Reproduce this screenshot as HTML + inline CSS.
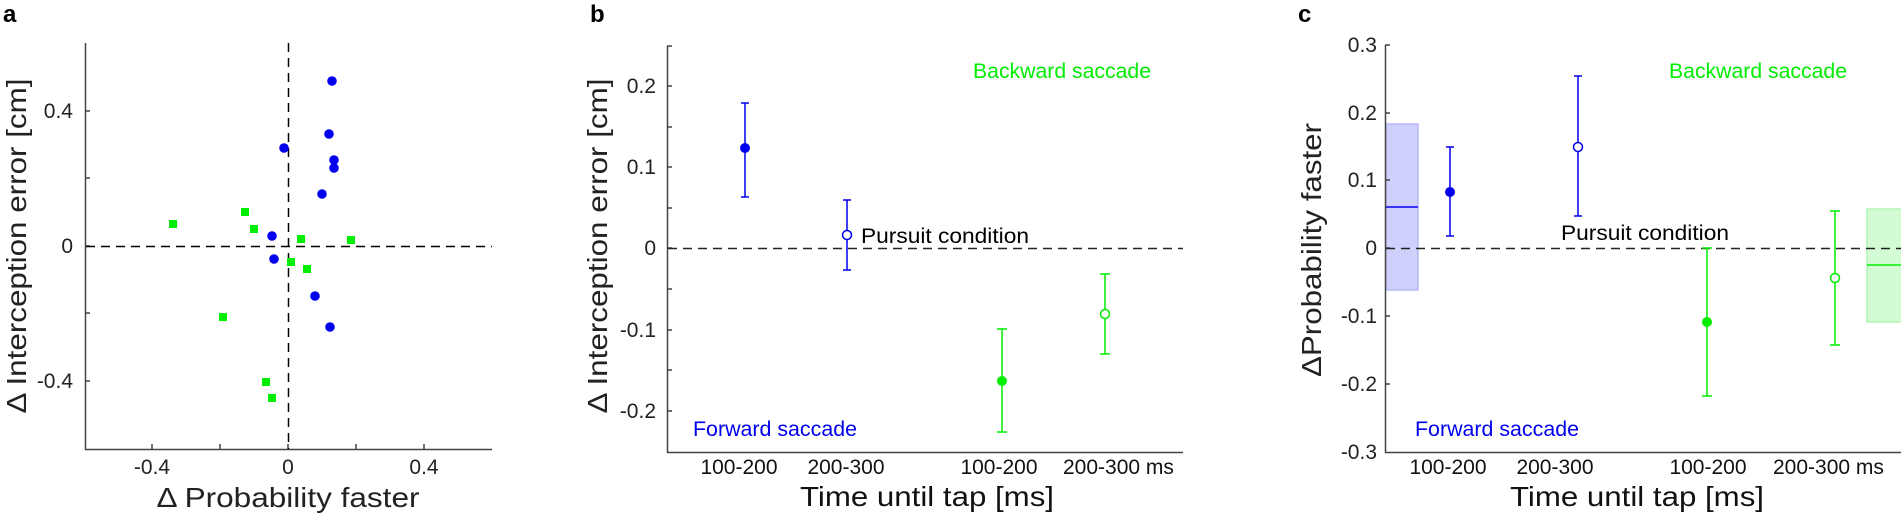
<!DOCTYPE html>
<html><head><meta charset="utf-8"><style>
html,body{margin:0;padding:0;background:#fff;}
svg{display:block;}
text{font-family:"Liberation Sans",sans-serif;}
</style></head><body>
<svg width="1901" height="515" viewBox="0 0 1901 515" xmlns="http://www.w3.org/2000/svg">
<!-- Panel a -->
<text x="3" y="22" font-size="24" font-weight="bold">a</text>
<g stroke="#444" stroke-width="1.5" fill="none">
<path d="M85.5 43 V449.5 H492"/>
<path d="M85 111H90M85 178H90M85 246H90M85 313H90M85 381H90"/>
<path d="M152 449V444M220 449V444M288 449V444M356 449V444M424 449V444"/>
</g>
<g stroke="#000" stroke-width="1.5" stroke-dasharray="9,6" fill="none">
<path d="M86 246.5H492"/><path d="M288.5 43V449"/>
</g>
<g font-size="21" fill="#222" text-anchor="end">
<text x="73" y="118">0.4</text><text x="73" y="253">0</text><text x="73" y="388">-0.4</text>
</g>
<g font-size="21" fill="#222" text-anchor="middle">
<text x="152" y="474">-0.4</text><text x="288" y="474">0</text><text x="424" y="474">0.4</text>
</g>
<text x="288" y="507" font-size="28" fill="#222" text-anchor="middle" textLength="263" lengthAdjust="spacingAndGlyphs">Δ Probability faster</text>
<text transform="translate(26,246) rotate(-90)" font-size="28" fill="#222" text-anchor="middle" textLength="335" lengthAdjust="spacingAndGlyphs">Δ Interception error [cm]</text>
<g fill="#0000ee">
<circle cx="332" cy="81" r="4.8"/><circle cx="329" cy="134" r="4.8"/><circle cx="284" cy="148" r="4.8"/>
<circle cx="334" cy="160" r="4.8"/><circle cx="334" cy="168" r="4.8"/><circle cx="322" cy="194" r="4.8"/>
<circle cx="272" cy="236" r="4.8"/><circle cx="274" cy="259" r="4.8"/><circle cx="315" cy="296" r="4.8"/>
<circle cx="330" cy="327" r="4.8"/>
</g>
<g fill="#00ee00">
<rect x="169" y="220" width="8" height="8"/><rect x="241" y="208" width="8" height="8"/><rect x="250" y="225" width="8" height="8"/>
<rect x="297" y="235" width="8" height="8"/><rect x="347" y="236" width="8" height="8"/><rect x="287" y="258" width="8" height="8"/>
<rect x="303" y="265" width="8" height="8"/><rect x="219" y="313" width="8" height="8"/><rect x="262" y="378" width="8" height="8"/>
<rect x="268" y="394" width="8" height="8"/>
</g>

<!-- Panel b -->
<text x="590" y="22" font-size="24" font-weight="bold">b</text>
<g stroke="#444" stroke-width="1.5" fill="none">
<path d="M667.5 46 V452.5 H1183"/>
<path d="M667 46H672M667 86H672M667 127H672M667 167H672M667 208H672M667 248H672M667 289H672M667 330H672M667 370H672M667 411H672"/>
</g>
<path d="M668 248.5H1183" stroke="#222" stroke-width="1.5" stroke-dasharray="9,6"/>
<g font-size="21" fill="#222" text-anchor="end">
<text x="656" y="93">0.2</text><text x="656" y="174">0.1</text><text x="656" y="255">0</text>
<text x="656" y="337">-0.1</text><text x="656" y="418">-0.2</text>
</g>
<g font-size="21" fill="#111" text-anchor="middle">
<text x="739" y="474">100-200</text><text x="846" y="474">200-300</text><text x="999" y="474">100-200</text>
</g>
<text x="1063" y="474" font-size="21" fill="#111">200-300 ms</text>
<text x="927" y="506" font-size="28" fill="#111" text-anchor="middle" textLength="254" lengthAdjust="spacingAndGlyphs">Time until tap [ms]</text>
<text transform="translate(607,246) rotate(-90)" font-size="28" fill="#222" text-anchor="middle" textLength="335" lengthAdjust="spacingAndGlyphs">Δ Interception error [cm]</text>
<text x="973" y="78" font-size="21" fill="#00ee00" textLength="178" lengthAdjust="spacingAndGlyphs">Backward saccade</text>
<text x="861" y="243" font-size="21" fill="#000" textLength="168" lengthAdjust="spacingAndGlyphs">Pursuit condition</text>
<text x="693" y="436" font-size="21" fill="#0000ee" textLength="164" lengthAdjust="spacingAndGlyphs">Forward saccade</text>
<g stroke="#0000ee" stroke-width="1.5" fill="none">
<path d="M745 103V197M741 103H749M741 197H749"/>
<path d="M847 200V270M843 200H851M843 270H851"/>
</g>
<circle cx="745" cy="148" r="5" fill="#0000ee"/>
<circle cx="847" cy="235" r="4.5" fill="#fff" stroke="#0000ee" stroke-width="1.5"/>
<g stroke="#00ee00" stroke-width="1.5" fill="none">
<path d="M1002 329V432M997 329H1007M997 432H1007"/>
<path d="M1105 274V354M1100 274H1110M1100 354H1110"/>
</g>
<circle cx="1002" cy="381" r="5" fill="#00ee00"/>
<circle cx="1105" cy="314" r="4.5" fill="#fff" stroke="#00ee00" stroke-width="1.5"/>

<!-- Panel c -->
<text x="1298" y="22" font-size="24" font-weight="bold">c</text>
<rect x="1386" y="124" width="32" height="166" fill="#d0d0fc" stroke="#b8b8f6" stroke-width="1.5"/>
<path d="M1386 207H1418" stroke="#0000ee" stroke-width="1.5"/>
<rect x="1867" y="209" width="40" height="113" fill="#d4fcd4" stroke="#b0f6b0" stroke-width="1.5"/>
<path d="M1867 265H1901" stroke="#00ee00" stroke-width="1.5"/>
<g stroke="#444" stroke-width="1.5" fill="none">
<path d="M1385.5 45 V452.5 H1901"/>
<path d="M1385 45H1390M1385 113H1390M1385 180H1390M1385 248H1390M1385 316H1390M1385 384H1390"/>
</g>
<path d="M1386 248.5H1901" stroke="#222" stroke-width="1.5" stroke-dasharray="9,6"/>
<g font-size="21" fill="#222" text-anchor="end">
<text x="1377" y="52">0.3</text><text x="1377" y="120">0.2</text><text x="1377" y="187">0.1</text>
<text x="1377" y="255">0</text><text x="1377" y="323">-0.1</text><text x="1377" y="391">-0.2</text><text x="1377" y="459">-0.3</text>
</g>
<g font-size="21" fill="#111" text-anchor="middle">
<text x="1448" y="474">100-200</text><text x="1555" y="474">200-300</text><text x="1708" y="474">100-200</text>
</g>
<text x="1773" y="474" font-size="21" fill="#111">200-300 ms</text>
<text x="1637" y="506" font-size="28" fill="#111" text-anchor="middle" textLength="254" lengthAdjust="spacingAndGlyphs">Time until tap [ms]</text>
<text transform="translate(1321,250) rotate(-90)" font-size="28" fill="#222" text-anchor="middle" textLength="254" lengthAdjust="spacingAndGlyphs">ΔProbability faster</text>
<text x="1669" y="78" font-size="21" fill="#00ee00" textLength="178" lengthAdjust="spacingAndGlyphs">Backward saccade</text>
<text x="1561" y="240" font-size="21" fill="#000" textLength="168" lengthAdjust="spacingAndGlyphs">Pursuit condition</text>
<text x="1415" y="436" font-size="21" fill="#0000ee" textLength="164" lengthAdjust="spacingAndGlyphs">Forward saccade</text>
<g stroke="#0000ee" stroke-width="1.5" fill="none">
<path d="M1450 147V236M1446 147H1454M1446 236H1454"/>
<path d="M1578 76V216M1574 76H1582M1574 216H1582"/>
</g>
<circle cx="1450" cy="192" r="5" fill="#0000ee"/>
<circle cx="1578" cy="147" r="4.5" fill="#fff" stroke="#0000ee" stroke-width="1.5"/>
<g stroke="#00ee00" stroke-width="1.5" fill="none">
<path d="M1707 248V396M1702 248H1712M1702 396H1712"/>
<path d="M1835 211V345M1830 211H1840M1830 345H1840"/>
</g>
<circle cx="1707" cy="322" r="5" fill="#00ee00"/>
<circle cx="1835" cy="278" r="4.5" fill="#fff" stroke="#00ee00" stroke-width="1.5"/>
</svg>
</body></html>
